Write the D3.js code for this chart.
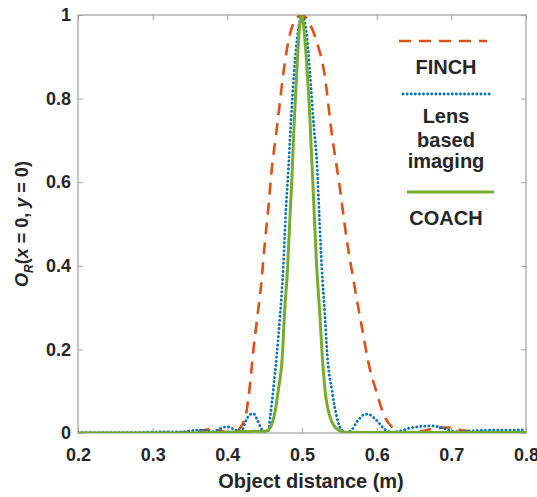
<!DOCTYPE html>
<html>
<head>
<meta charset="utf-8">
<script src="https://cdn.jsdelivr.net/npm/d3@7"></script>
<style>
  body { margin: 0; background: #fff; }
  text { font-family: "Liberation Sans", Arial, sans-serif; font-weight: bold; fill: #262626; }
</style>
</head>
<body>
<div id="my_dataviz"></div>
<script>

// data
var finchX = [0.2, 0.3, 0.34, 0.36, 0.38, 0.39, 0.4, 0.41, 0.42, 0.425, 0.43, 0.435, 0.44, 0.445, 0.45, 0.455, 0.46, 0.465, 0.47, 0.475, 0.48, 0.49, 0.5,
              0.51, 0.52, 0.53, 0.54, 0.55, 0.56, 0.57, 0.58, 0.59, 0.6, 0.61, 0.62, 0.63, 0.64, 0.66, 0.68, 0.7, 0.71, 0.73, 0.75, 0.8];
var finchY = [0, 0, 0.002, 0.004, 0.009, 0.006, 0.002, 0.003, 0.02, 0.045, 0.11, 0.2, 0.275, 0.35, 0.45, 0.54, 0.64, 0.71, 0.785, 0.86, 0.92, 0.985, 1,
              0.98, 0.935, 0.86, 0.715, 0.595, 0.462, 0.355, 0.255, 0.16, 0.097, 0.042, 0.015, 0.004, 0.001, 0.004, 0.012, 0.013, 0.008, 0.004, 0.001, 0];

var lensX = [0.2, 0.25, 0.3, 0.32, 0.34, 0.35, 0.36, 0.37, 0.38, 0.39, 0.4, 0.41, 0.415, 0.42, 0.425, 0.43, 0.435, 0.44, 0.445, 0.45, 0.455,
             0.4575, 0.4615, 0.466, 0.4705, 0.475, 0.478, 0.4817, 0.4853, 0.4893, 0.495, 0.5,
             0.5054, 0.5107, 0.5151, 0.5205, 0.5232, 0.5264, 0.5308, 0.534, 0.54, 0.5465, 0.5525, 0.56, 0.565, 0.575, 0.585, 0.59,
             0.6, 0.61, 0.62, 0.63, 0.645, 0.66, 0.675, 0.69, 0.705, 0.72, 0.74, 0.76, 0.78, 0.8];
var lensY = [0.001, 0.001, 0.002, 0.003, 0.002, 0.005, 0.007, 0.006, 0.003, 0.01, 0.015, 0.008, 0.004, 0.008, 0.03, 0.044, 0.046, 0.032, 0.012, 0.003, 0.006,
             0.04, 0.103, 0.183, 0.278, 0.398, 0.518, 0.629, 0.749, 0.861, 0.964, 1,
             0.964, 0.861, 0.749, 0.629, 0.518, 0.398, 0.278, 0.183, 0.103, 0.039, 0.008, 0.002, 0.005, 0.03, 0.045, 0.044,
             0.03, 0.01, 0.002, 0.004, 0.012, 0.016, 0.017, 0.011, 0.003, 0.004, 0.006, 0.007, 0.007, 0.008];

var coachX = [0.2, 0.3, 0.4, 0.44, 0.45, 0.4549, 0.4625, 0.4683, 0.4736, 0.4763, 0.4808, 0.4839, 0.487, 0.4883, 0.4897, 0.4929, 0.4964, 0.5,
              0.5027, 0.5071, 0.5107, 0.512, 0.5138, 0.5165, 0.5197, 0.5241, 0.5272, 0.5308, 0.5375, 0.5486, 0.56, 0.6, 0.7, 0.8];
var coachY = [0, 0, 0.002, 0.004, 0.004, 0.007, 0.039, 0.103, 0.183, 0.278, 0.398, 0.518, 0.629, 0.693, 0.749, 0.861, 0.964, 1,
              0.964, 0.861, 0.749, 0.693, 0.629, 0.518, 0.398, 0.278, 0.183, 0.103, 0.039, 0.007, 0.001, 0.001, 0.001, 0.001];

var xTicks = [0.2, 0.3, 0.4, 0.5, 0.6, 0.7, 0.8];
var yTicks = [0, 0.2, 0.4, 0.6, 0.8, 1];

// set the dimensions and margins of the graph
var margin = {top: 15, right: 11, bottom: 64, left: 78},
    width = 537 - margin.left - margin.right,
    height = 497 - margin.top - margin.bottom;

var svg = d3.select("#my_dataviz")
  .append("svg")
    .attr("width", width + margin.left + margin.right)
    .attr("height", height + margin.top + margin.bottom)
  .append("g")
    .attr("transform", "translate(" + margin.left + "," + margin.top + ")");

var x = d3.scaleLinear().domain([0.2, 0.8]).range([0, width]);
var y = d3.scaleLinear().domain([0, 1]).range([height, 0]);

var fmt = function(d) { return d === 0 || d === 1 ? String(d) : d3.format(".1f")(d); };

// axes (ticks pointing inward)
svg.append("g")
    .attr("transform", "translate(0," + height + ")")
    .call(d3.axisBottom(x).tickValues(xTicks).tickSizeInner(-5).tickSizeOuter(0).tickPadding(15).tickFormat(fmt));
svg.append("g")
    .call(d3.axisLeft(y).tickValues(yTicks).tickSizeInner(-5).tickSizeOuter(0).tickPadding(7).tickFormat(fmt));
svg.append("g")
    .call(d3.axisTop(x).tickValues(xTicks).tickSizeInner(-5).tickSizeOuter(0).tickFormat(""));
svg.append("g")
    .attr("transform", "translate(" + width + ",0)")
    .call(d3.axisRight(y).tickValues(yTicks).tickSizeInner(-5).tickSizeOuter(0).tickFormat(""));

svg.selectAll(".domain").remove();
svg.selectAll(".tick line").attr("stroke", "#a6a6a6");
svg.selectAll(".tick text").style("font-size", "18px").attr("fill", "#262626");

svg.append("rect")
    .attr("width", width)
    .attr("height", height)
    .attr("fill", "none")
    .attr("stroke", "#a6a6a6")
    .attr("stroke-width", 1.3);

// labels
svg.append("text")
    .attr("text-anchor", "middle")
    .attr("x", 311 - margin.left)
    .attr("y", height + 55)
    .style("font-size", "20px")
    .text("Object distance (m)");

var ylab = svg.append("text")
    .attr("text-anchor", "middle")
    .attr("transform", "translate(-50," + (height / 2) + ") rotate(-90)")
    .style("font-size", "18px");
ylab.append("tspan").attr("font-style", "italic").text("O");
ylab.append("tspan").attr("font-style", "italic").attr("dy", 5).style("font-size", "12px").text("R");
ylab.append("tspan").attr("dy", -5).text("(");
ylab.append("tspan").attr("font-style", "italic").text("x");
ylab.append("tspan").text(" = 0, ");
ylab.append("tspan").attr("font-style", "italic").text("y");
ylab.append("tspan").text(" = 0)");

// clip
svg.append("clipPath").attr("id", "clip")
  .append("rect").attr("width", width).attr("height", height);

var series = [
  {xs: finchX, ys: finchY, color: "#D95319", width: 2.6, dash: "12,8", cap: "butt"},
  {xs: lensX, ys: lensY, color: "#0072BD", width: 2.8, dash: "0.1,4", cap: "round"},
  {xs: coachX, ys: coachY, color: "#77AC30", width: 3, dash: null, cap: "butt"}
];

var line = d3.line()
    .x(function(d) { return x(d[0]); })
    .y(function(d) { return y(d[1]); })
    .curve(d3.curveMonotoneX);

series.forEach(function(s) {
  svg.append("path")
    .datum(d3.zip(s.xs, s.ys))
    .attr("clip-path", "url(#clip)")
    .attr("fill", "none")
    .attr("stroke", s.color)
    .attr("stroke-width", s.width)
    .attr("stroke-dasharray", s.dash)
    .attr("stroke-linecap", s.cap)
    .attr("d", line);
});

// legend
var leg = svg.append("g").attr("transform", "translate(" + (-margin.left) + "," + (-margin.top) + ")");
leg.append("line").attr("x1", 399).attr("x2", 487).attr("y1", 41).attr("y2", 41)
    .attr("stroke", "#D95319").attr("stroke-width", 2.6).attr("stroke-dasharray", "12,8");
leg.append("line").attr("x1", 403).attr("x2", 490).attr("y1", 94).attr("y2", 94)
    .attr("stroke", "#0072BD").attr("stroke-width", 2.8).attr("stroke-dasharray", "0.1,4").attr("stroke-linecap", "round");
leg.append("line").attr("x1", 407).attr("x2", 494).attr("y1", 192).attr("y2", 192)
    .attr("stroke", "#77AC30").attr("stroke-width", 3);

var legText = [["FINCH", 74], ["Lens", 123], ["based", 147], ["imaging", 168], ["COACH", 225]];
legText.forEach(function(t) {
  leg.append("text")
    .attr("x", 446)
    .attr("y", t[1])
    .attr("text-anchor", "middle")
    .style("font-size", "20px")
    .text(t[0]);
});

</script>
</body>
</html>
